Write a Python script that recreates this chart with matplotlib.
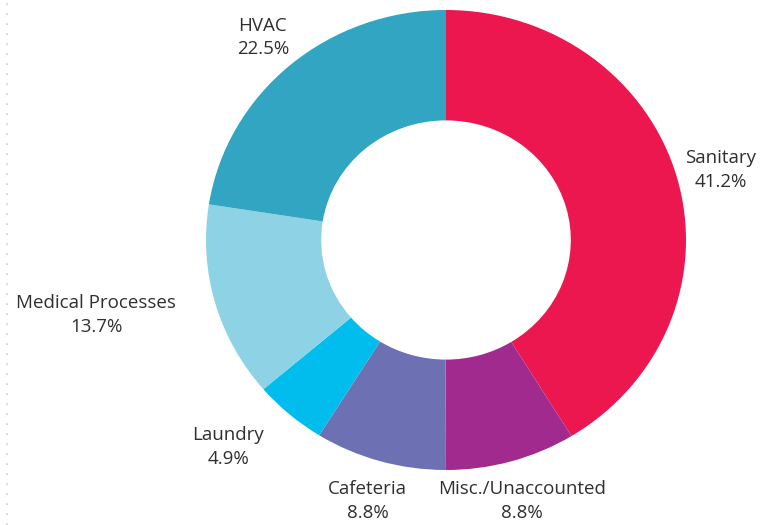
import matplotlib
matplotlib.use("Agg")
import matplotlib.pyplot as plt
from matplotlib.lines import Line2D

categories = ["Sanitary", "Misc./Unaccounted", "Cafeteria", "Laundry",
              "Medical Processes", "HVAC"]
values = [41.2, 8.8, 8.8, 4.9, 13.7, 22.5]
colors = ["#EC174F", "#A12A8E", "#6E70B4", "#00BDED", "#8DD3E5", "#31A5C1"]

# label anchor positions (data coords, ring outer radius = 1)
label_pos = [(1.145, 0.304), (0.315, -1.135), (-0.327, -1.135),
             (-0.908, -0.90), (-1.458, -0.326), (-0.763, 0.88)]

fig = plt.figure(figsize=(7.6, 5.25), dpi=100)
ax = fig.add_axes([0, 0, 1, 1])
ax.pie(values, colors=colors, startangle=90, counterclock=False,
       radius=1.0, wedgeprops=dict(width=0.48, edgecolor="none"))
ax.set_aspect("auto")
ax.set_xlim(-446 / 240, (760 - 446) / 240)
ax.set_ylim(-285 / 230, 240 / 230)
ax.axis("off")

for cat, val, (x, y) in zip(categories, values, label_pos):
    ax.text(x, y, f"{cat}\n{val:.1f}%", ha="center", va="center",
            fontsize=13.5, family=["Open Sans", "DejaVu Sans"],
            color="#2f2f2f", linespacing=1.4)

fig.add_artist(Line2D([0.009, 0.009], [0.0, 1.0], transform=fig.transFigure,
                      color="#cccccc", linestyle=(0, (1, 5)), linewidth=1.2))

fig.savefig("out.png", dpi=100)
